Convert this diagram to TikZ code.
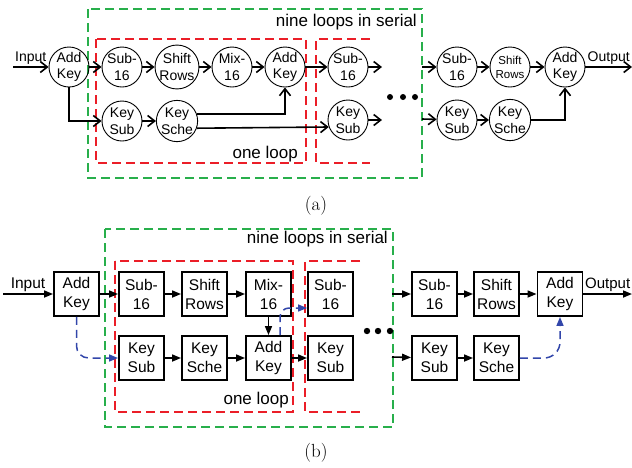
\documentclass[tikz,border=0pt]{standalone}
\usepackage{fontspec}
\setsansfont{Liberation Sans}
\usetikzlibrary{arrows.meta}
\definecolor{verde}{RGB}{40,175,75}
\definecolor{rojo}{RGB}{235,30,40}
\definecolor{azul}{RGB}{50,70,170}

\begin{document}
\begin{tikzpicture}[x=1pt, y=-1pt,
    circulo/.style={circle, draw, line width=0.9pt, minimum size=40pt, inner sep=0pt,
      align=center, font=\sffamily\fontsize{14}{16.5}\selectfont},
    caja/.style={rectangle, draw, line width=1.9pt, minimum width=45pt, minimum height=44pt,
      inner sep=0pt, align=center, font=\sffamily\fontsize{15.5}{19}\selectfont},
    flechaA/.style={-{Straight Barb[length=7pt,width=11pt]}, line width=1.6pt},
    flechaB/.style={-{Triangle[length=9pt,width=7pt]}, line width=1.6pt},
    azulflecha/.style={draw=azul, line width=1.5pt, dash pattern=on 8pt off 5pt,
      -{Triangle[length=9pt,width=7pt]}},
    verdebox/.style={draw=verde, line width=1.8pt, dash pattern=on 9pt off 5pt},
    rojobox/.style={draw=rojo, line width=1.8pt, dash pattern=on 9pt off 5pt},
    texto/.style={font=\sffamily\fontsize{17}{20}\selectfont, inner sep=0pt},
    etiq/.style={font=\sffamily\fontsize{14}{16}\selectfont, inner sep=1.5pt},
    rotulo/.style={font=\fontsize{19}{22}\selectfont}
  ]
  \useasboundingbox (0,0) rectangle (632,467);

  % ---------------- (a) ----------------

  % 1. Cajas discontinuas
  \draw[verdebox] (88,9) rectangle (422,178);
  \node[texto, anchor=base east] (nueveA) at (417,26) {nine loops in serial};
  \draw[rojobox] (96,39) rectangle (306,163);
  \node[texto, anchor=base east] (lazoA) at (298,158) {one loop};
  \draw[rojobox] (370,39) -- (316,39) -- (316,163) -- (370,163);

  % 2. Circulos
  \node[circulo] (ak0) at (69,67) {Add\\Key};
  \node[circulo] (sub1) at (122,67) {Sub-\\16};
  \node[circulo] (sr1) at (177,67) {Shift\\Rows};
  \node[circulo] (mix1) at (232,67) {Mix-\\16};
  \node[circulo] (ak1) at (285,67) {Add\\Key};
  \node[circulo] (ks1) at (122,121) {Key\\Sub};
  \node[circulo] (kc1) at (177,121) {Key\\Sche};
  \node[circulo] (sub2) at (348,67) {Sub-\\16};
  \node[circulo] (ks2) at (348,120) {Key\\Sub};
  \node[circulo] (sub3) at (457,67) {Sub-\\16};
  \node[circulo, font=\sffamily\fontsize{11.5}{14}\selectfont] (sr3) at (510,67) {Shift\\Rows};
  \node[circulo] (ak3) at (565,67) {Add\\Key};
  \node[circulo] (ks3) at (457,120) {Key\\Sub};
  \node[circulo] (kc3) at (510,120) {Key\\Sche};

  % 3. Flechas
  \coordinate (inA) at (13,67);
  \coordinate (outA) at (632,67);
  \coordinate (sub2o) at (382,67);
  \coordinate (ks2o) at (382,120);
  \coordinate (sub3i) at (422,67);
  \coordinate (ks3i) at (422,119);
  \draw[flechaA] (inA) -- node[etiq, above] (inlblA) {Input} (ak0);
  \draw[flechaA] (ak0) -- (sub1);
  \draw[flechaA] (sub1) -- (sr1);
  \draw[flechaA] (sr1) -- (mix1);
  \draw[flechaA] (mix1) -- (ak1);
  \draw[flechaA] (ak0.south) |- (ks1.west);
  \draw[flechaA] (ks1) -- (kc1);
  \draw[flechaA] (kc1.20) -| (ak1.south);
  \draw[flechaA] (kc1.-20) -- (ks2.200);
  \draw[flechaA] (ak1) -- (sub2);
  \draw[flechaA] (sub2) -- (sub2o);
  \draw[flechaA] (ks2) -- (ks2o);
  \foreach \x in {390,403,415} \fill (\x,97) circle (3pt);
  \draw[flechaA] (sub3i) -- (sub3);
  \draw[flechaA] (ks3i) -- (ks3);
  \draw[flechaA] (sub3) -- (sr3);
  \draw[flechaA] (sr3) -- (ak3);
  \draw[flechaA] (ks3) -- (kc3);
  \draw[flechaA] (kc3.east) -| (ak3.south);
  \draw[flechaA] (ak3) -- node[etiq, above] (outlblA) {Output} (outA);

  \node[rotulo] (capA) at (316,206) {(a)};

  % ---------------- (b) ----------------

  % 4. Cajas discontinuas
  \draw[verdebox] (105,229) rectangle (393,427);
  \node[texto, anchor=base east] (nueveB) at (388,243) {nine loops in serial};
  \draw[rojobox] (115,261) rectangle (293,412);
  \node[texto, anchor=base east] (lazoB) at (289,404) {one loop};
  \draw[rojobox] (360,261) -- (305,261) -- (305,412) -- (360,412);

  % 5. Bloques
  \node[caja] (bak0) at (76.5,294) {Add\\Key};
  \node[caja] (bsub1) at (141.5,294) {Sub-\\16};
  \node[caja] (bsr1) at (204.5,294) {Shift\\Rows};
  \node[caja] (bmix1) at (268.5,294) {Mix-\\16};
  \node[caja] (bks1) at (141.5,358) {Key\\Sub};
  \node[caja] (bkc1) at (204.5,358) {Key\\Sche};
  \node[caja] (bak1) at (268.5,358) {Add\\Key};
  \node[caja] (bsub2) at (330.5,294) {Sub-\\16};
  \node[caja] (bks2) at (330.5,358) {Key\\Sub};
  \node[caja] (bsub3) at (434.5,294) {Sub-\\16};
  \node[caja] (bsr3) at (496.5,294) {Shift\\Rows};
  \node[caja] (bak3) at (560,294) {Add\\Key};
  \node[caja] (bks3) at (434.5,358) {Key\\Sub};
  \node[caja] (bkc3) at (496.5,358) {Key\\Sche};

  % 6. Flechas
  \coordinate (inB) at (3,294);
  \coordinate (outB) at (632,294);
  \coordinate (bsub3i) at (392,294);
  \coordinate (bks3i) at (392,357);
  \draw[flechaB] (inB) -- node[etiq, above, font=\sffamily\fontsize{15.5}{18}\selectfont] (inlblB) {Input} (bak0);
  \draw[flechaB] (bak0) -- (bsub1);
  \draw[flechaB] (bsub1) -- (bsr1);
  \draw[flechaB] (bsr1) -- (bmix1);
  \draw[flechaB] (bmix1) -- (bak1);
  \draw[flechaB] (bks1) -- (bkc1);
  \draw[flechaB] (bkc1) -- (bak1);
  \draw[flechaB] (bak1) -- (bks2);
  \draw[azulflecha, rounded corners=12pt] (bak0.south) |- (bks1.west);
  \draw[azulflecha, rounded corners=9pt] ([xshift=11.5pt]bak1.north) |- ([yshift=-14pt]bsub2.west);
  \foreach \x in {367,378,390} \fill (\x,331) circle (3.2pt);
  \draw[flechaB] (bsub3i) -- (bsub3);
  \draw[flechaB] (bks3i) -- (bks3);
  \draw[flechaB] (bsub3) -- (bsr3);
  \draw[flechaB] (bsr3) -- (bak3);
  \draw[flechaB] (bks3) -- (bkc3);
  \draw[azulflecha, rounded corners=16pt] (bkc3.east) -| (bak3.south);
  \draw[flechaB] (bak3) -- node[etiq, above, font=\sffamily\fontsize{15}{18}\selectfont] (outlblB) {Output} (outB);

  \node[rotulo] (capB) at (316,453) {(b)};

\end{tikzpicture}
\end{document}
